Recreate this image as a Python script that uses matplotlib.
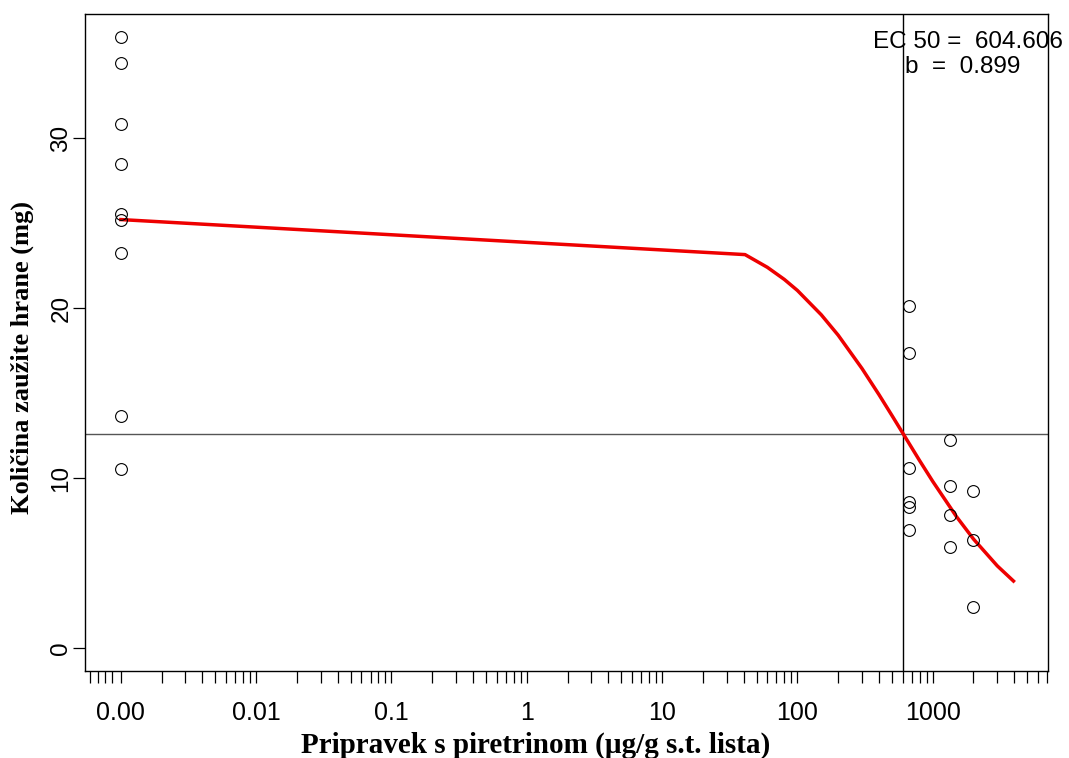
import matplotlib
matplotlib.use('Agg')
import matplotlib.pyplot as plt
from matplotlib.ticker import FixedLocator, FixedFormatter, NullFormatter

# ---- data ----
dose = [0.001] * 9 + [670] * 6 + [1330] * 4 + [2000] * 3
resp = [35.94, 34.41, 30.82, 28.47, 25.5, 25.2, 23.24, 13.65, 10.53,
        20.14, 17.34, 10.61, 8.61, 8.31, 6.94,
        12.24, 9.53, 7.82, 5.92,
        9.24, 6.35, 2.43]

curve_dose = [0.001, 41, 60, 80, 100, 150, 200, 300, 400, 500, 604.6,
              800, 1000, 1500, 2000, 3000, 3950]
curve_resp = [25.20, 23.14, 22.39, 21.68, 21.03, 19.60, 18.40, 16.44, 14.91,
              13.67, 12.60, 11.02, 9.80, 7.72, 6.41, 4.83, 3.94]

ec50 = 604.606
half_resp = 12.6
b_slope = 0.899

major_ticks = [0.001, 0.01, 0.1, 1, 10, 100, 1000]
major_labels = ["0.00", "0.01", "0.1", "1", "10", "100", "1000"]
near_zero_ticks = [10 ** -3.228, 10 ** -3.171, 10 ** -3.117, 10 ** -3.063]
minor_mult = [2, 3, 4, 5, 6, 7, 8, 9]
y_ticks = [0, 10, 20, 30]

xlabel = "Pripravek s piretrinom (µg/g s.t. lista)"
ylabel = "Količina zaužite hrane (mg)"

# ---- figure ----
fig = plt.figure(figsize=(10.69, 7.58), dpi=100)
ax = fig.add_axes([0.0795, 0.1148, 0.9009, 0.8667])
ax.set_xscale('log')
ax.set_xlim(10 ** -3.265, 10 ** 3.852)
ax.set_ylim(-1.35, 37.29)

ax.axhline(half_resp, color='#555555', lw=1.0, zorder=1)
ax.axvline(ec50, color='black', lw=1.0, zorder=1)

ax.plot(curve_dose, curve_resp, color='#ee0000', lw=2.5, zorder=3,
        solid_joinstyle='round')
ax.plot(dose, resp, 'o', mfc='none', mec='black', ms=8.5, mew=0.8, zorder=4)

minor = list(near_zero_ticks)
for k in range(-3, 3):
    minor += [m * 10 ** k for m in minor_mult]
minor += [m * 1000 for m in [2, 3, 4, 5, 6, 7]]

ax.xaxis.set_major_locator(FixedLocator(major_ticks))
ax.xaxis.set_major_formatter(FixedFormatter(major_labels))
ax.xaxis.set_minor_locator(FixedLocator(minor))
ax.xaxis.set_minor_formatter(NullFormatter())
ax.tick_params(axis='x', which='both', direction='out', length=8.6, width=0.9,
               pad=13, labelsize=18, colors='black')
ax.set_yticks(y_ticks)
ax.tick_params(axis='y', direction='out', length=8.6, width=0.9, pad=0.5,
               labelsize=17.5)
for lab in ax.get_xticklabels() + ax.get_yticklabels():
    lab.set_fontfamily('Liberation Sans')
for lab in ax.get_yticklabels():
    lab.set_rotation(90)
    lab.set_va('center')

for s in ax.spines.values():
    s.set_linewidth(1.0)
    s.set_color('black')

fig.text(536 / 1069, 1 - 745 / 758, xlabel, ha='center', va='center',
         fontsize=21, fontweight='bold', family='Liberation Serif')
fig.text(22 / 1069, 1 - 357 / 758, ylabel, ha='center', va='center',
         rotation=90, fontsize=19, fontweight='bold', family='Liberation Serif')

ax.text(10 ** 2.559, 35.65, "EC 50 =  %.3f" % ec50, ha='left', va='center',
        fontsize=17.5, family='Liberation Sans', clip_on=False)
ax.text(10 ** 2.795, 34.18, "b  =  %.3f" % b_slope, ha='left', va='center',
        fontsize=17.5, family='Liberation Sans', clip_on=False)

fig.savefig('out.png', dpi=100)
